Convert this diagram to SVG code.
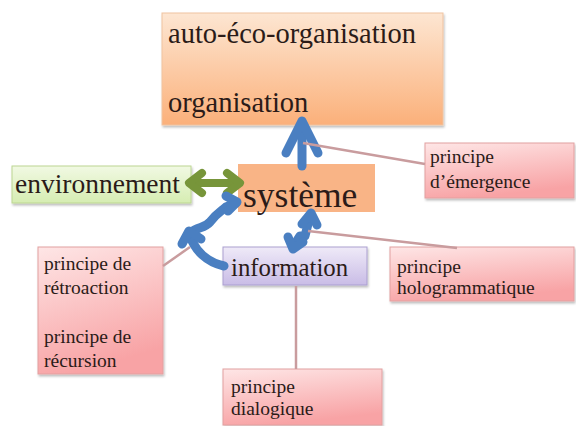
<svg xmlns="http://www.w3.org/2000/svg" width="576" height="426" viewBox="0 0 576 426">
<defs>
<linearGradient id="gOrange" x1="0" y1="0" x2="0" y2="1">
<stop offset="0" stop-color="#fde6d2"/><stop offset="1" stop-color="#fbb07a"/>
</linearGradient>
<linearGradient id="gGreen" x1="0" y1="0" x2="0" y2="1">
<stop offset="0" stop-color="#f1f9e3"/><stop offset="1" stop-color="#d6edb2"/>
</linearGradient>
<linearGradient id="gViolet" x1="0" y1="0" x2="0" y2="1">
<stop offset="0" stop-color="#efeaf8"/><stop offset="1" stop-color="#c9bce6"/>
</linearGradient>
<linearGradient id="gPink" x1="0" y1="0" x2="0.3" y2="1">
<stop offset="0" stop-color="#fee6e6"/><stop offset="1" stop-color="#f8a3a5"/>
</linearGradient>
<filter id="sh" x="-10%" y="-10%" width="125%" height="130%">
<feDropShadow dx="1" dy="2" stdDeviation="1.2" flood-color="#000" flood-opacity="0.25"/>
</filter>
</defs>
<style>
text{fill:#2b1b18;font-family:'Liberation Serif','DejaVu Serif',serif}
.pink{fill:url(#gPink);stroke:#e2a0a0;stroke-width:1;filter:url(#sh)}
.pt{font-size:19.5px}
.blue{fill:none;stroke:#4a7fc1;stroke-width:9;stroke-linecap:round;stroke-linejoin:round}
.green{fill:none;stroke:#77953a;stroke-width:8;stroke-linecap:round;stroke-linejoin:round}
.link{fill:none;stroke:#c99c9e;stroke-width:2.5}
</style>
<g id="node-organisation">
<rect x="162" y="13" width="281" height="112" fill="url(#gOrange)" stroke="#efc3a0" stroke-width="1" filter="url(#sh)"/>
<text x="168" y="43" font-size="28.5">auto-éco-organisation</text>
<text x="168" y="112" font-size="28.5">organisation</text>
</g>
<g id="node-systeme">
<rect x="238" y="164" width="137" height="48" fill="#f9b486"/>
<text x="243" y="207" font-size="35.5">système</text>
</g>
<g id="node-environnement">
<rect x="12" y="166" width="179" height="37" fill="url(#gGreen)" stroke="#bcd692" stroke-width="1" filter="url(#sh)"/>
<text x="15" y="193" font-size="27.5">environnement</text>
</g>
<g id="node-information">
<rect x="223" y="247" width="144" height="38" fill="url(#gViolet)" stroke="#ab9fd0" stroke-width="1" filter="url(#sh)"/>
<text x="231" y="276" font-size="24.8">information</text>
</g>
<g id="node-emergence">
<rect class="pink" x="425" y="143" width="149" height="55"/>
<text class="pt" x="430" y="163">principe</text>
<text class="pt" x="430" y="188">d’émergence</text>
</g>
<g id="node-hologrammatique">
<rect class="pink" x="390" y="247" width="184" height="54"/>
<text class="pt" x="397" y="273">principe</text>
<text class="pt" x="397" y="294">hologrammatique</text>
</g>
<g id="node-retroaction">
<rect class="pink" x="38" y="247" width="125" height="127"/>
<text class="pt" x="44" y="270">principe de</text>
<text class="pt" x="44" y="294">rétroaction</text>
<text class="pt" x="44" y="343">principe de</text>
<text class="pt" x="44" y="367">récursion</text>
</g>
<g id="node-dialogique">
<rect class="pink" x="223" y="369" width="159" height="56"/>
<text class="pt" x="231" y="393">principe</text>
<text class="pt" x="231" y="415">dialogique</text>
</g>
<g id="connectors">
<line class="blue" x1="302" y1="166" x2="302" y2="124" stroke-width="10"/>
<polyline class="blue" points="286,153 302,121 318,153" stroke-width="10"/>
<line class="green" x1="193" y1="183" x2="236" y2="183"/>
<polyline class="green" points="202,173 189,183 202,193"/>
<polyline class="green" points="227,173 240,183 227,193"/>
<path class="blue" d="M293,247 L300,236 L305,236 L310,216" stroke-width="7"/>
<polyline class="blue" points="302,224 311,213 317,225" stroke-width="7"/>
<polyline class="blue" points="288,237 293,249 303,242" stroke-width="7"/>
<path class="blue" d="M190,233 C198,226 204,229 210,222 C216,214 220,212 226,207 L236,203" stroke-width="7"/>
<polyline class="blue" points="226,196 237,202 228,211" stroke-width="7"/>
<path class="blue" d="M224,266 C206,262 195,250 190,236" stroke-width="7"/>
<polyline class="blue" points="182,244 189,231 201,239" stroke-width="7"/>
<line class="link" x1="303" y1="143" x2="425" y2="164"/>
<line class="link" x1="308" y1="231" x2="457" y2="248"/>
<line class="link" x1="296" y1="286" x2="296" y2="369"/>
<line class="link" x1="163" y1="266" x2="190" y2="247"/>
</g>
</svg>
